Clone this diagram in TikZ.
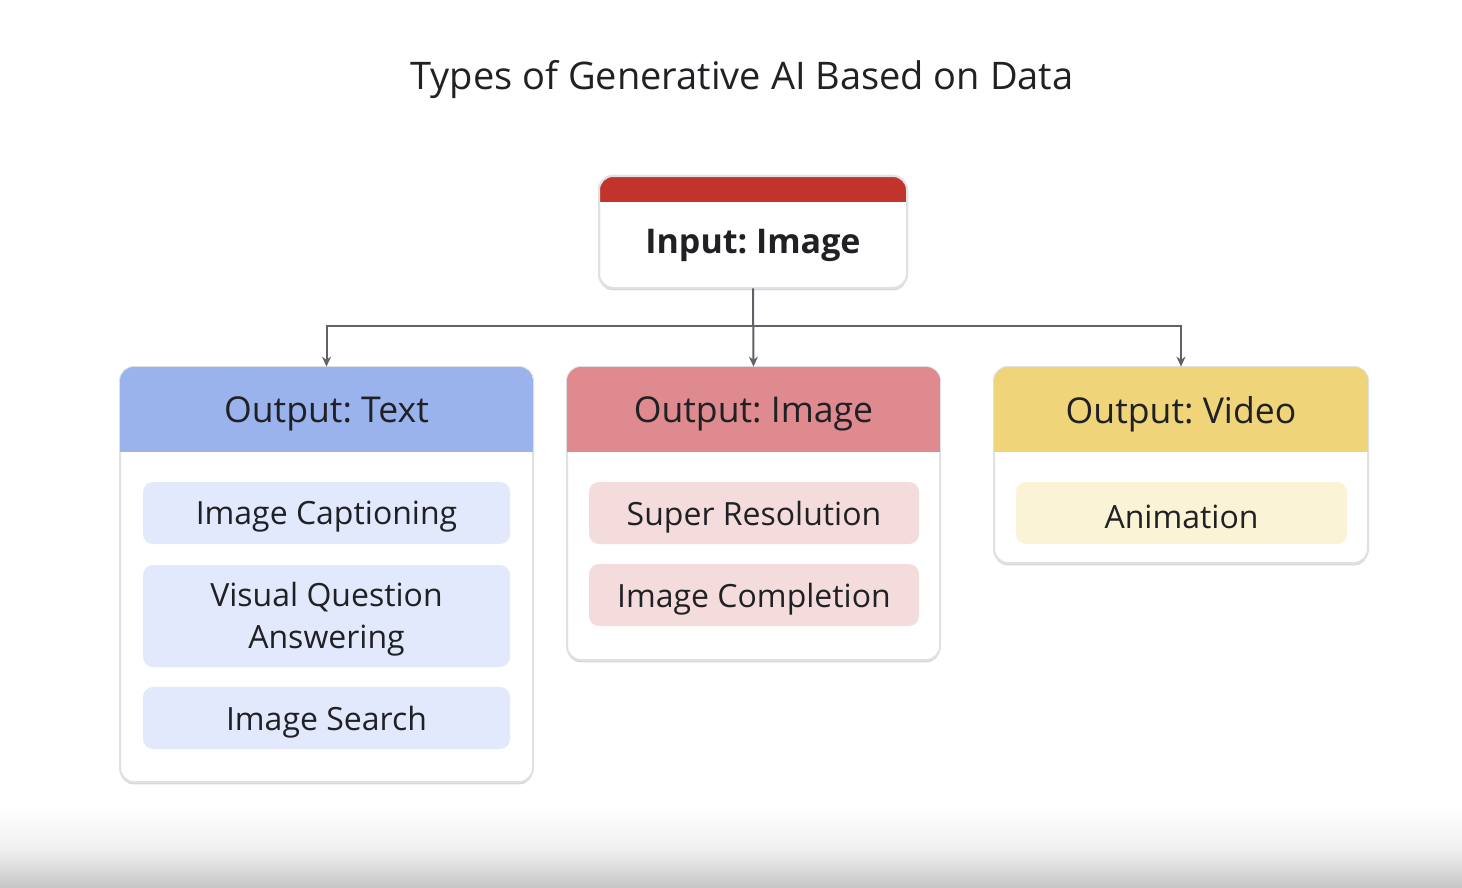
\documentclass[tikz,border=0pt]{standalone}
\usepackage{fontspec}
\setmainfont{Open Sans}
\frenchspacing
\usetikzlibrary{arrows.meta,shadows}
\definecolor{ink}{HTML}{202124}
\definecolor{linec}{HTML}{5F6368}
\definecolor{redh}{HTML}{C0342B}
\definecolor{blueh}{HTML}{9BB3EC}
\definecolor{pinkh}{HTML}{DE8A8F}
\definecolor{yellh}{HTML}{EFD47A}
\definecolor{bluel}{HTML}{E2E9FC}
\definecolor{pinkl}{HTML}{F5DCDC}
\definecolor{yelll}{HTML}{FBF3D6}
\definecolor{cardedge}{HTML}{DFE1E4}
\tikzset{
  card/.style={draw=cardedge, line width=1pt, fill=white, rounded corners=7pt,
    drop shadow={shadow xshift=0pt, shadow yshift=-1.2pt, opacity=0.25, fill=black!60}},
  headtxt/.style={text=ink, font=\fontsize{17.8}{20}\selectfont},
  subbox/.style={rounded corners=5pt, text=ink, align=center},
  subtxt/.style={text=ink, align=center, font=\fontsize{16}{21}\selectfont},
  conn/.style={draw=linec, line width=1pt, -{Stealth[length=5pt,width=4.5pt]}}
}
\begin{document}
\begin{tikzpicture}[x=0.5pt,y=-0.5pt]
\path[use as bounding box, fill=white] (0,0) rectangle (1462,888);
\shade[top color=white, bottom color=black!6, draw=none] (0,805) rectangle (1462,850);
\shade[top color=black!6, bottom color=black!23, draw=none] (0,850) rectangle (1462,888.5);

\node[text=ink, font=\fontsize{19}{22}\selectfont] (title) at (742,80) {Types of Generative AI Based on Data};

% Input card
\path[card] (599,176) rectangle (907,288);
\begin{scope}
  \clip[rounded corners=7pt] (599,176) rectangle (907,288);
  \fill[redh] (599,176) rectangle (907,202);
\end{scope}
\draw[cardedge, line width=1pt, rounded corners=7pt] (599,176) rectangle (907,288);
\node[inner sep=0pt, minimum width=308*0.5pt, minimum height=112*0.5pt] (in) at (753,232) {};
\node[text=ink, font=\fontsize{17}{20}\selectfont\bfseries] (inlbl) at (753,245) {Input: Image};

% Output cards
\newcommand{\outcard}[6]{% name, x1, x2, y2, color, label
  \path[card] (#2,367) rectangle (#3,#4);
  \begin{scope}
    \clip[rounded corners=7pt] (#2,367) rectangle (#3,#4);
    \fill[#5] (#2,367) rectangle (#3,452);
  \end{scope}
  \node[inner sep=0pt, minimum width={(#3-#2)*0.5pt}, minimum height={(#4-367)*0.5pt}] (#1) at ({(#2+#3)/2},{(#4+367)/2}) {};
  \node[headtxt] (#1h) at ({(#2+#3)/2},414) {#6};
}
\outcard{outT}{120}{533}{782}{blueh}{Output: Text}
\outcard{outI}{567}{940}{660}{pinkh}{Output: Image}
\outcard{outV}{994}{1368}{563}{yellh}{Output: Video}

% sub boxes
\node[subbox, fill=bluel, minimum width=367*0.5pt, minimum height=62*0.5pt] (s1) at (326.5,513) {};
\node[subtxt] (s1t) at (326.5,517) {Image Captioning};
\node[subbox, fill=bluel, minimum width=367*0.5pt, minimum height=102*0.5pt] (s2) at (326.5,616) {};
\node[subtxt] (s2t) at (326.5,619) {Visual Question\\Answering};
\node[subbox, fill=bluel, minimum width=367*0.5pt, minimum height=62*0.5pt] (s3) at (326.5,718) {};
\node[subtxt] (s3t) at (326.5,722) {Image Search};
\node[subbox, fill=pinkl, minimum width=330*0.5pt, minimum height=62*0.5pt] (s4) at (754,513) {};
\node[subtxt] (s4t) at (754,517) {Super Resolution};
\node[subbox, fill=pinkl, minimum width=330*0.5pt, minimum height=62*0.5pt] (s5) at (754,595) {};
\node[subtxt] (s5t) at (754,599) {Image Completion};
\node[subbox, fill=yelll, minimum width=331*0.5pt, minimum height=62*0.5pt] (s6) at (1181.5,513) {};
\node[subtxt] (s6t) at (1181.5,517) {Animation};

% connectors
\coordinate (jn) at (753,326);
\draw[conn] (in.south) -- (outI.north);
\draw[conn] (jn) -| (outT.north);
\draw[conn] (jn) -| (outV.north);
\end{tikzpicture}
\end{document}
